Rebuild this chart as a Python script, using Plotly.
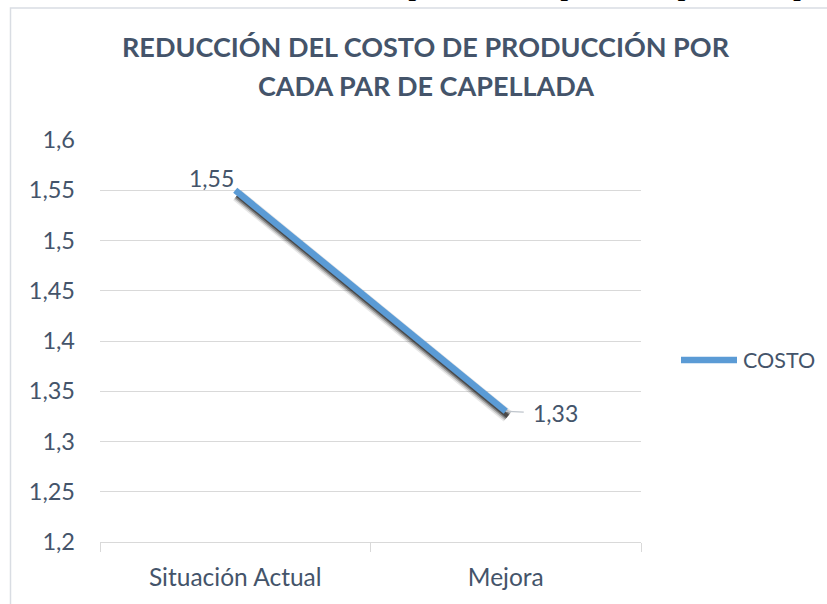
import plotly.graph_objects as go

# ---- data ----
categories = ["Situación Actual", "Mejora"]
costo = [1.55, 1.33]
costo_labels = ["1,55", "1,33"]
series_name = "COSTO"
y_tick_values = [1.2, 1.25, 1.3, 1.35, 1.4, 1.45, 1.5, 1.55, 1.6]
y_tick_labels = ["1,2", "1,25", "1,3", "1,35", "1,4", "1,45", "1,5", "1,55", "1,6"]
title_lines = ["REDUCCIÓN DEL COSTO DE PRODUCCIÓN POR", "CADA PAR DE CAPELLADA"]
caption = "Gráfico 4: Reducción del costo de producción por cada par de capellada"

# ---- geometry / style ----
W, H = 827, 604
ML, MR, MT, MB = 100, 186, 140, 62
PW, PH = W - ML - MR, H - MT - MB
X_RANGE = [-0.5, len(categories) - 0.5]
Y_RANGE = [1.2, 1.6]

TEXT = "#44546A"
GRID = "#D9D9D9"
LINE = "#5B9BD5"
FONT = "Lato"


def px_x(px):
    return px / PW * (X_RANGE[1] - X_RANGE[0])


def px_y(px):
    return px / PH * (Y_RANGE[1] - Y_RANGE[0])


def paper_x(px):
    return (px - ML) / PW


def paper_y(px):
    return (H - MB - px) / PH


fig = go.Figure()

# soft drop shadow under the line: same data on overlay axes nudged down-right
shadow_dx, shadow_dy = 2, 5
for width, alpha in [(13, 0.10), (10, 0.2), (7, 0.35), (4, 0.5)]:
    fig.add_trace(go.Scatter(
        x=categories, y=costo, mode="lines", xaxis="x2", yaxis="y2",
        line=dict(color="rgba(20,20,20,%s)" % alpha, width=width),
        hoverinfo="skip", showlegend=False))

# the series itself
fig.add_trace(go.Scatter(
    x=categories, y=costo, mode="lines", name=series_name, xaxis="x3", yaxis="y3",
    line=dict(color=LINE, width=6.5), showlegend=False))

annotations = [
    dict(x=categories[0], y=costo[0], xref="x", yref="y", text=costo_labels[0],
         showarrow=False, xanchor="right", yanchor="bottom", xshift=1, yshift=-4,
         font=dict(family=FONT, size=23, color=TEXT)),
    dict(x=categories[1], y=costo[1], xref="x", yref="y", text=costo_labels[1],
         showarrow=True, ax=50, ay=2, arrowhead=0, arrowwidth=1.2, arrowcolor="#BFC5CC",
         borderpad=9, xanchor="center", yanchor="middle",
         font=dict(family=FONT, size=23, color=TEXT)),
    dict(x=paper_x(426), y=paper_y(59), xref="paper", yref="paper", text="<b>%s</b>" % title_lines[0],
         showarrow=False, xanchor="center", yanchor="bottom", yshift=-6,
         font=dict(family=FONT, size=27, color=TEXT)),
    dict(x=paper_x(426), y=paper_y(98), xref="paper", yref="paper", text="<b>%s</b>" % title_lines[1],
         showarrow=False, xanchor="center", yanchor="bottom", yshift=-6,
         font=dict(family=FONT, size=27, color=TEXT)),
    # legend entry label
    dict(x=paper_x(741), y=paper_y(360), xref="paper", yref="paper", text=series_name,
         showarrow=False, xanchor="left", yanchor="middle",
         font=dict(family=FONT, size=21.5, color=TEXT)),
    dict(x=paper_x(-38), y=paper_y(3), xref="paper", yref="paper", text=caption,
         showarrow=False, xanchor="left", yanchor="bottom",
         font=dict(family="Liberation Serif", size=32, color="#000000")),
]

shapes = [
    dict(type="rect", xref="paper", yref="paper",
         x0=paper_x(10.5), x1=paper_x(900), y0=paper_y(700), y1=paper_y(8),
         line=dict(color="#D9DDE3", width=1.5), fillcolor="rgba(0,0,0,0)", layer="below"),
    # legend swatch
    dict(type="line", xref="paper", yref="paper",
         x0=paper_x(681), x1=paper_x(737), y0=paper_y(360), y1=paper_y(360),
         line=dict(color=LINE, width=6.5)),
]

fig.update_layout(
    width=W, height=H,
    margin=dict(l=ML, r=MR, t=MT, b=MB),
    paper_bgcolor="white", plot_bgcolor="white",
    font=dict(family=FONT, color=TEXT, size=23),
    xaxis=dict(type="category", categoryarray=categories, range=X_RANGE,
               showgrid=False, showline=True, linecolor=GRID, linewidth=1,
               ticks="outside", tickson="boundaries", ticklen=9, tickcolor=GRID,
               tickfont=dict(family=FONT, size=24.5, color=TEXT),
               ticklabelstandoff=14, zeroline=False, fixedrange=True),
    yaxis=dict(range=Y_RANGE, tickvals=y_tick_values, ticktext=y_tick_labels,
               showgrid=True, gridcolor=GRID, gridwidth=1, showline=False,
               zeroline=False, ticks="", ticklabelstandoff=24,
               tickfont=dict(family=FONT, size=23.5, color=TEXT), fixedrange=True),
    xaxis2=dict(type="category", categoryarray=categories, overlaying="x",
                range=[X_RANGE[0] - px_x(shadow_dx), X_RANGE[1] - px_x(shadow_dx)],
                visible=False, fixedrange=True),
    yaxis2=dict(overlaying="y",
                range=[Y_RANGE[0] + px_y(shadow_dy), Y_RANGE[1] + px_y(shadow_dy)],
                visible=False, fixedrange=True),
    xaxis3=dict(type="category", categoryarray=categories, overlaying="x",
                range=X_RANGE, visible=False, fixedrange=True),
    yaxis3=dict(overlaying="y", range=Y_RANGE, visible=False, fixedrange=True),
    annotations=annotations,
    shapes=shapes,
    showlegend=False,
)

fig.write_html("out.html")
